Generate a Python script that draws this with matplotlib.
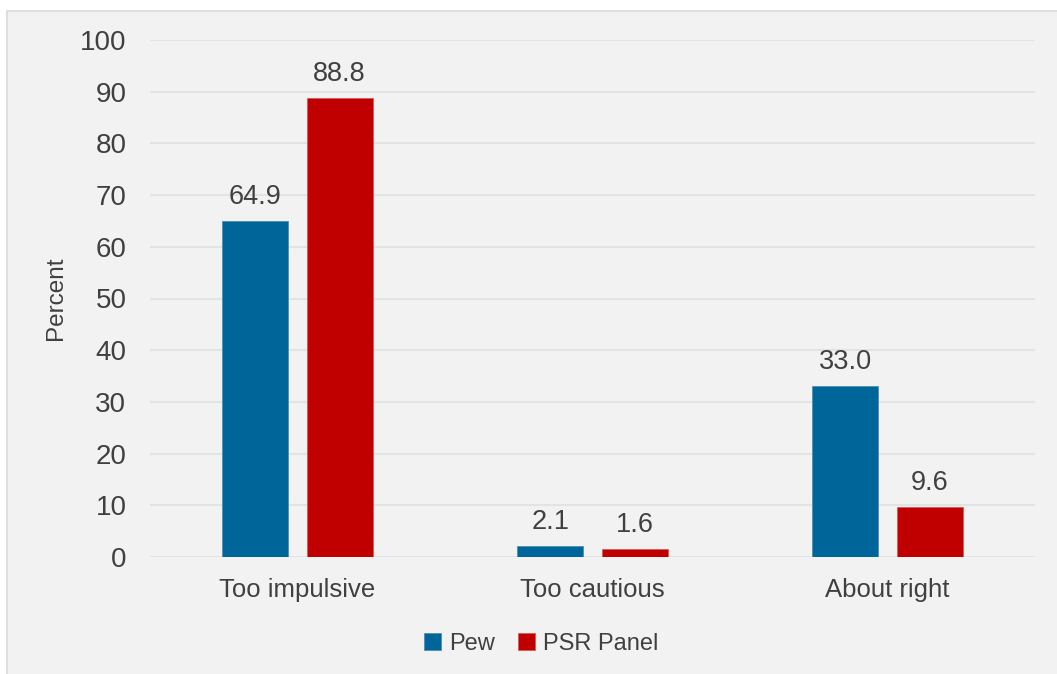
import matplotlib.pyplot as plt
import numpy as np
from matplotlib.patches import Rectangle

categories = ["Too impulsive", "Too cautious", "About right"]
pew = [64.9, 2.1, 33.0]
psr_panel = [88.8, 1.6, 9.6]
series_names = ["Pew", "PSR Panel"]
y_ticks = [0, 10, 20, 30, 40, 50, 60, 70, 80, 90, 100]

plt.rcParams["font.family"] = ["Liberation Sans", "DejaVu Sans"]
text_color = "#404040"
blue = "#006699"
red = "#c00000"

fig = plt.figure(figsize=(10.57, 6.74), dpi=100, facecolor="white")
fig.patches.append(
    Rectangle((7 / 1057, -0.01), 1.02, 1 - 11 / 674 + 0.01,
              transform=fig.transFigure, facecolor="#f2f2f2",
              edgecolor="#d9d9d9", linewidth=1.2, zorder=-5)
)

ax = fig.add_axes([150 / 1057, 117 / 674, 885 / 1057, 517 / 674])
ax.set_facecolor("none")

x = np.arange(len(categories))
width = 0.224
offset = 0.143
bars_pew = ax.bar(x - offset, pew, width, color=blue, edgecolor="#4f8fb3",
                  linewidth=0.6, label=series_names[0], zorder=3)
bars_psr = ax.bar(x + offset, psr_panel, width, color=red, edgecolor="#d95a5a",
                  linewidth=0.6, label=series_names[1], zorder=3)
for bars in (bars_pew, bars_psr):
    ax.bar_label(bars, fmt="%.1f", padding=8, fontsize=19.5, color=text_color)

ax.set_xlim(-0.5, 2.5)
ax.set_ylim(0, 100)
ax.set_yticks(y_ticks)
ax.set_xticks(x)
ax.set_xticklabels(categories)
ax.tick_params(axis="both", length=0, labelcolor=text_color)
ax.tick_params(axis="y", pad=17, labelsize=20)
ax.tick_params(axis="x", pad=15, labelsize=18.5)
ax.grid(axis="y", color="#e0e4e4", linewidth=1.5, zorder=0)
ax.set_axisbelow(True)
for spine in ax.spines.values():
    spine.set_visible(False)

ax.set_ylabel("Percent", fontsize=17.5, color=text_color)
ax.yaxis.set_label_coords(-0.094, 0.5)

fig.legend(handles=[bars_pew, bars_psr], labels=series_names,
           loc="center", bbox_to_anchor=(0.512, 0.045), ncol=2,
           frameon=False, fontsize=17, labelcolor=text_color,
           handlelength=0.7, handleheight=0.7, handletextpad=0.35,
           columnspacing=1.0)

fig.savefig("out.png", dpi=100, facecolor=fig.get_facecolor())
